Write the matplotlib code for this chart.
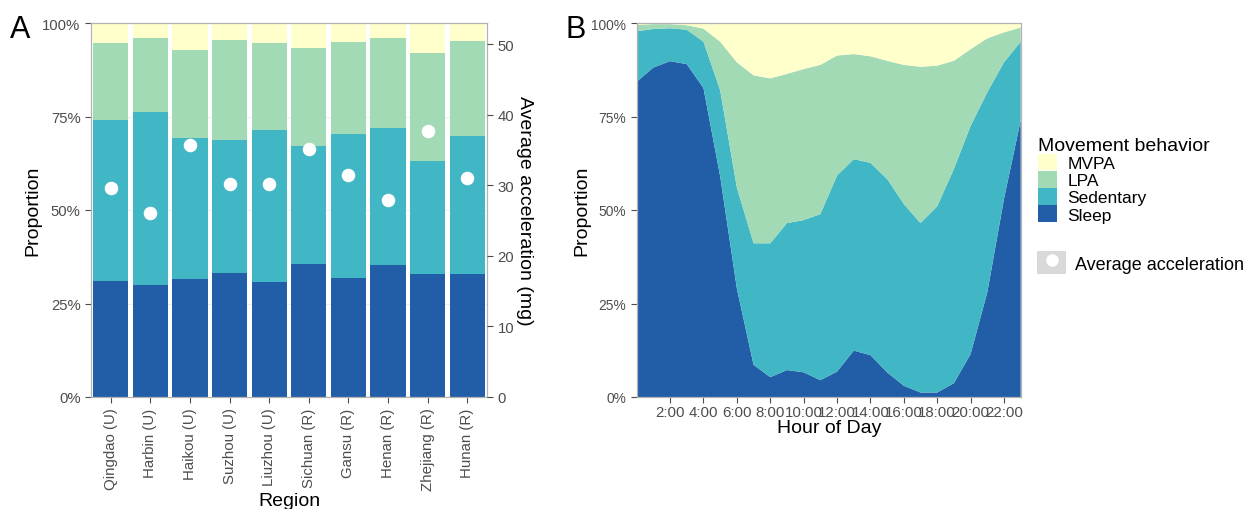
import numpy as np
import matplotlib.pyplot as plt
from matplotlib.patches import Patch
from matplotlib.lines import Line2D
from matplotlib.legend_handler import HandlerTuple
from matplotlib.ticker import PercentFormatter

plt.rcParams['font.family'] = ['Liberation Sans', 'DejaVu Sans']

# Panel A: share of each behaviour per region (%), and mean acceleration (mg)
regions = ['Qingdao (U)', 'Harbin (U)', 'Haikou (U)', 'Suzhou (U)', 'Liuzhou (U)',
           'Sichuan (R)', 'Gansu (R)', 'Henan (R)', 'Zhejiang (R)', 'Hunan (R)']
region_sleep = [30.9, 30.0, 31.6, 33.1, 30.7, 35.6, 31.8, 35.2, 33.0, 33.0]
region_sed = [43.2, 46.3, 37.6, 35.5, 40.7, 31.5, 38.5, 36.7, 30.0, 36.9]
region_lpa = [20.5, 19.8, 23.7, 26.8, 23.2, 26.1, 24.6, 24.0, 29.0, 25.3]
region_mvpa = [5.4, 3.9, 7.1, 4.6, 5.4, 6.8, 5.1, 4.1, 8.0, 4.8]
region_accel = [29.6, 26.1, 35.7, 30.2, 30.2, 35.1, 31.4, 27.9, 37.7, 31.0]

# Panel B: share of each behaviour per hour of day (%)
hours = list(range(24))
hour_sleep = [84.3, 88.1, 89.8, 89.0, 82.6, 59.0, 29.0, 8.6, 5.3, 7.2, 6.6, 4.5,
              6.8, 12.4, 11.2, 6.6, 3.0, 1.2, 1.2, 3.7, 11.5, 28.0, 53.0, 74.0]
hour_sed = [13.5, 10.3, 8.8, 9.2, 12.4, 23.0, 27.0, 32.5, 35.8, 39.3, 40.7, 44.4,
            52.4, 51.2, 51.4, 51.7, 48.6, 45.3, 49.8, 57.3, 61.0, 53.5, 36.5, 21.0]
hour_lpa = [1.7, 1.3, 1.1, 1.2, 3.5, 13.0, 33.5, 44.9, 44.1, 39.9, 40.4, 39.9,
            32.1, 28.1, 28.5, 31.6, 37.2, 41.8, 37.6, 28.9, 20.5, 14.4, 8.0, 3.8]
hour_mvpa = [0.5, 0.3, 0.3, 0.6, 1.5, 5.0, 10.5, 14.0, 14.8, 13.6, 12.3, 11.2,
             8.7, 8.3, 8.9, 10.1, 11.2, 11.7, 11.4, 10.1, 7.0, 4.1, 2.5, 1.2]
hour_ticks = list(range(2, 23, 2))
hour_labels = [f'{h}:00' for h in hour_ticks]

behaviors = ['MVPA', 'LPA', 'Sedentary', 'Sleep']
colors = {'MVPA': '#FFFFCC', 'LPA': '#A1DAB4', 'Sedentary': '#41B6C4', 'Sleep': '#225EA8'}

tick_col = '#4D4D4D'
border_col = '#B3B3B3'


def style_axes(ax, size):
    for sp in ax.spines.values():
        sp.set_color(border_col)
        sp.set_linewidth(0.9)
    ax.tick_params(colors=tick_col, labelcolor=tick_col, labelsize=size, length=4, width=0.8)
    ax.yaxis.set_major_formatter(PercentFormatter(1.0, decimals=0))
    ax.set_yticks([0, 0.25, 0.5, 0.75, 1.0])
    ax.grid(axis='y', color='#EBEBEB', lw=0.6)
    ax.set_axisbelow(True)


fig = plt.figure(figsize=(12.55, 5.1), dpi=100)

# ---- panel A ----
axA = fig.add_axes([91 / 1255, 112 / 510, 396 / 1255, 374 / 510])
x = np.arange(len(regions))
bottom = np.zeros(len(regions))
for name, vals in [('Sleep', region_sleep), ('Sedentary', region_sed),
                   ('LPA', region_lpa), ('MVPA', region_mvpa)]:
    v = np.array(vals) / 100
    axA.bar(x, v, bottom=bottom, width=0.89, color=colors[name], lw=0)
    bottom += v
axA.set_xlim(-0.5, len(regions) - 0.5)
axA.set_ylim(0, 1)
style_axes(axA, 10.7)
axA.set_xticks(x)
axA.set_xticklabels(regions, rotation=90, fontsize=10.8)
axA.set_ylabel('Proportion', fontsize=14, labelpad=1)
axA.set_xlabel('Region', fontsize=14, labelpad=1)

axA2 = axA.twinx()
axA2.scatter(x, region_accel, s=95, color='white', zorder=4, lw=0)
axA2.set_ylim(0, 53)
axA2.set_yticks([0, 10, 20, 30, 40, 50])
for sp in axA2.spines.values():
    sp.set_visible(False)
axA2.tick_params(colors=tick_col, labelcolor=tick_col, labelsize=10.7, length=4, width=0.8)
axA2.set_ylabel('Average acceleration (mg)', fontsize=14, rotation=270, labelpad=14)

# ---- panel B ----
axB = fig.add_axes([636.7 / 1255, 112 / 510, 384 / 1255, 374 / 510])
series = [np.array(s) / 100 for s in (hour_sleep, hour_sed, hour_lpa, hour_mvpa)]
axB.stackplot(hours, *series,
              colors=[colors['Sleep'], colors['Sedentary'], colors['LPA'], colors['MVPA']],
              lw=0)
axB.set_xlim(0, 23)
axB.set_ylim(0, 1)
style_axes(axB, 9.9)
axB.set_xticks(hour_ticks)
axB.set_xticklabels(hour_labels, fontsize=10.8)
axB.tick_params(axis='x', pad=2)
axB.set_ylabel('Proportion', fontsize=14, labelpad=1)
axB.set_xlabel('Hour of Day', fontsize=14, labelpad=0)

# ---- legends ----
handles = [Patch(facecolor=colors[b], edgecolor='none') for b in behaviors]
fig.legend(handles, behaviors, title='Movement behavior', loc='upper left',
           bbox_to_anchor=(1022 / 1255, 1 - 122 / 510), frameon=False,
           fontsize=12.5, title_fontsize=14, handlelength=1.1, handleheight=1.1,
           labelspacing=0.0, handletextpad=0.6, alignment='left')
dot = (Patch(facecolor='#D9D9D9', edgecolor='none'),
       Line2D([], [], marker='o', color='white', ms=8, ls=''))
fig.legend([dot], ['Average acceleration'], loc='upper left',
           handler_map={tuple: HandlerTuple(ndivide=1)},
           bbox_to_anchor=(1021 / 1255, 1 - 236 / 510), frameon=False,
           fontsize=13, handlelength=1.6, handleheight=1.6, handletextpad=0.5)

fig.text(10 / 1255, 1 - 38 / 510, 'A', fontsize=22)
fig.text(566 / 1255, 1 - 38 / 510, 'B', fontsize=22)

fig.savefig('out.png', dpi=100)
